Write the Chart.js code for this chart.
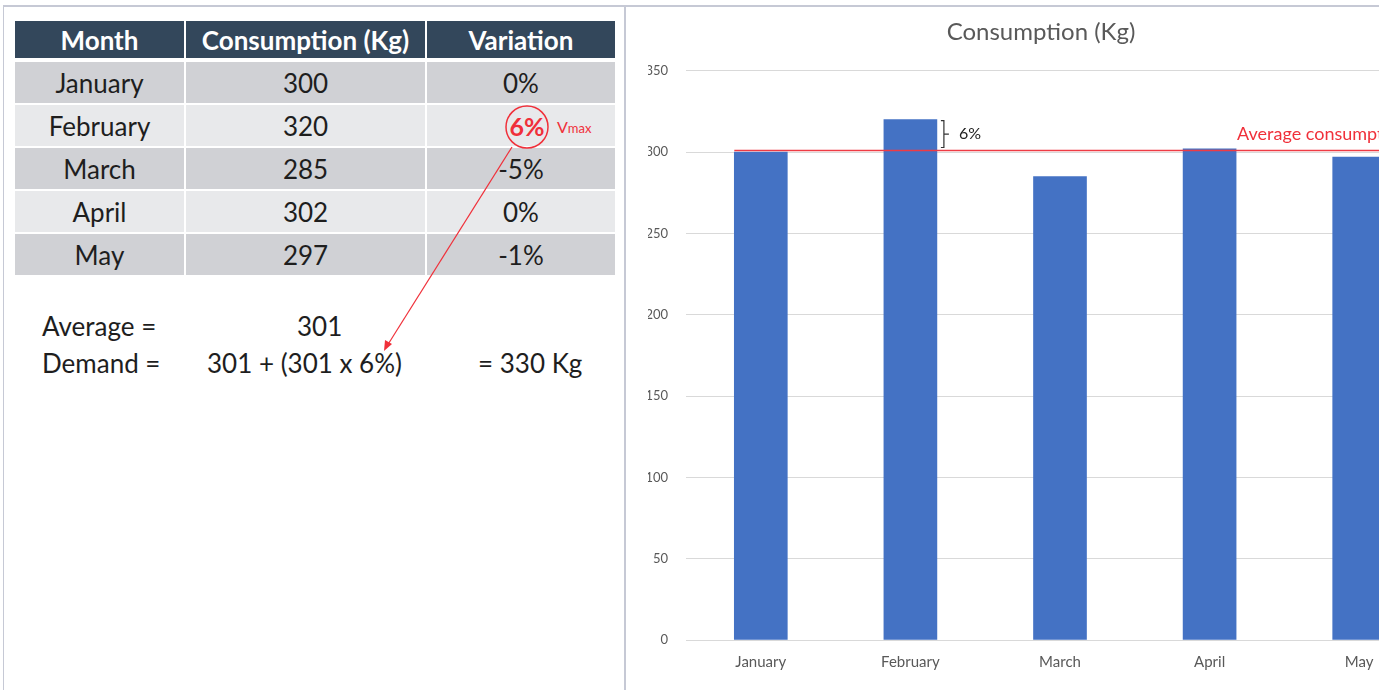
<!DOCTYPE html>
<html>
<head>
<meta charset="utf-8">
<script src="https://cdn.jsdelivr.net/npm/chart.js@4.4.1/dist/chart.umd.min.js"></script>
<style>
  html, body { margin: 0; padding: 0; background: #fff; }
  body { width: 1391px; height: 690px; position: relative; overflow: hidden; font-family: Lato, "Open Sans", sans-serif; }
  .frame-top { position: absolute; left: 3px; top: 5px; width: 1376px; height: 2px; background: #c6c9d5; }
  .frame-left { position: absolute; left: 3px; top: 5px; width: 1px; height: 685px; background: #c6c9d5; }
  .frame-mid { position: absolute; left: 624px; top: 5px; width: 2px; height: 685px; background: #c6c9d5; }
  .cell { position: absolute; display: flex; align-items: center; justify-content: center; font-size: 26px; color: #1e1e1e; }
  .head { background: #33475b; color: #fff; font-weight: 700; font-size: 26px; }
  .txt { position: absolute; font-size: 26px; color: #1e1e1e; line-height: 30px; white-space: nowrap; }
  #chartClip { position: absolute; left: 626px; top: 7px; width: 753px; height: 683px; overflow: hidden; }
  #chartBox { position: absolute; left: 0; top: 0; width: 830px; height: 683px; }
</style>
</head>
<body>
<div class="frame-top"></div>
<div class="frame-left"></div>
<div class="frame-mid"></div>
<div id="table"></div>

<div class="txt" style="left:42px; top:311px;">Average =</div>
<div class="txt" style="left:297px; top:311px;">301</div>
<div class="txt" style="left:42px; top:348px;">Demand =</div>
<div class="txt" style="left:207px; top:348px;">301 + (301 x 6%)</div>
<div class="txt" style="left:478px; top:348px;">= 330 Kg</div>

<svg style="position:absolute; left:0; top:0;" width="625" height="690">
  <circle cx="527" cy="127" r="21" fill="none" stroke="#f0303a" stroke-width="1.5"/>
  <text x="527" y="136" text-anchor="middle" font-family="Lato, sans-serif" font-size="25" font-weight="700" fill="#f0303a">6%</text>
  <text x="557" y="133" font-family="Lato, sans-serif" fill="#f0303a"><tspan font-size="16">V</tspan><tspan font-size="13">max</tspan></text>
  <line x1="512" y1="147" x2="387" y2="346" stroke="#f0303a" stroke-width="1.2"/>
  <polygon points="384,351 385,340 392,344" fill="#f0303a"/>
</svg>

<div id="chartClip"><div id="chartBox"><canvas id="consumptionChart"></canvas></div></div>

<script>
// data
const months = ["January", "February", "March", "April", "May"];
const consumption = [300, 320, 285, 302, 297];
const variation = ["0%", "6%", "-5%", "0%", "-1%"];
const headers = ["Month", "Consumption (Kg)", "Variation"];
const yTicks = [0, 50, 100, 150, 200, 250, 300, 350];
const average = 301;
const maxVariation = "6%";

// =============================
// table on the left
// =============================
const cols = [[15, 169], [186, 239], [427, 188]];
const table = document.getElementById("table");
function addCell(x, y, w, h, text, cls, bg) {
  const d = document.createElement("div");
  d.className = "cell " + cls;
  d.style.left = x + "px";
  d.style.top = y + "px";
  d.style.width = w + "px";
  d.style.height = h + "px";
  if (bg) d.style.background = bg;
  d.textContent = text;
  table.appendChild(d);
}
headers.forEach((h, i) => addCell(cols[i][0], 21, cols[i][1], 37, h, "head"));
months.forEach((m, r) => {
  const y = 62 + r * 43;
  const bg = r % 2 === 0 ? "#d0d1d5" : "#e8e9eb";
  addCell(cols[0][0], y, cols[0][1], 41, m, "", bg);
  addCell(cols[1][0], y, cols[1][1], 41, String(consumption[r]), "", bg);
  // the max variation is drawn red in the svg overlay
  addCell(cols[2][0], y, cols[2][1], 41, variation[r] === maxVariation ? "" : variation[r], "", bg);
});

// =============================
// average line + bracket
// =============================
const annotations = {
  id: "annotations",
  afterDatasetsDraw(chart) {
    const { ctx, scales } = chart;
    const bars = chart.getDatasetMeta(0).data;
    const yAvg = scales.y.getPixelForValue(average);
    const x0 = bars[0].x - bars[0].width / 2;

    ctx.save();
    ctx.strokeStyle = "#ee3b44";
    ctx.lineWidth = 1.5;
    ctx.beginPath();
    ctx.moveTo(x0, yAvg);
    ctx.lineTo(chart.width, yAvg);
    ctx.stroke();

    ctx.fillStyle = "#f0303a";
    ctx.font = "18px Lato, sans-serif";
    ctx.textBaseline = "alphabetic";
    ctx.fillText("Average consumption", bars[3].x + bars[3].width / 2 + 1, yAvg - 10);

    // bracket next to february
    const b = bars[1];
    const bx = b.x + b.width / 2 + 7;
    const top = b.y + 1;
    const bottom = yAvg - 3;
    const mid = (top + bottom) / 2;
    ctx.strokeStyle = "#333";
    ctx.lineWidth = 1.2;
    ctx.beginPath();
    ctx.moveTo(bx - 3, top);
    ctx.lineTo(bx, top);
    ctx.lineTo(bx, bottom);
    ctx.lineTo(bx - 3, bottom);
    ctx.moveTo(bx, mid);
    ctx.lineTo(bx + 5, mid);
    ctx.stroke();
    ctx.fillStyle = "#222";
    ctx.font = "16px Lato, sans-serif";
    ctx.textBaseline = "middle";
    ctx.fillText(maxVariation, bx + 15, mid);
    ctx.restore();
  }
};

new Chart(document.getElementById("consumptionChart"), {
  type: "bar",
  data: {
    labels: months,
    datasets: [{
      label: "Consumption (Kg)",
      data: consumption,
      backgroundColor: "#4472c4",
      barThickness: 53,
    }],
  },
  options: {
    responsive: true,
    maintainAspectRatio: false,
    animation: false,
    layout: { padding: { left: 22, right: 22, top: 1, bottom: 6 } },
    scales: {
      x: {
        grid: { display: false, drawTicks: false },
        border: { display: false },
        ticks: { color: "#595959", font: { family: "Lato", size: 15 }, padding: 13 },
      },
      y: {
        min: 0,
        max: 350,
        afterBuildTicks: (scale) => { scale.ticks = yTicks.map((v) => ({ value: v })); },
        afterFit: (scale) => { scale.width = 38; },
        grid: { color: "#d9d9d9", drawTicks: false },
        border: { display: false },
        ticks: { color: "#595959", font: { family: "Lato", size: 13 }, padding: 18 },
      },
    },
    plugins: {
      legend: { display: false },
      tooltip: { enabled: false },
      title: {
        display: true,
        text: "Consumption (Kg)",
        color: "#595959",
        font: { family: "Lato", size: 24, weight: "normal" },
        padding: { top: 10, bottom: 24 },
      },
    },
  },
  plugins: [annotations],
});
</script>
</body>
</html>
